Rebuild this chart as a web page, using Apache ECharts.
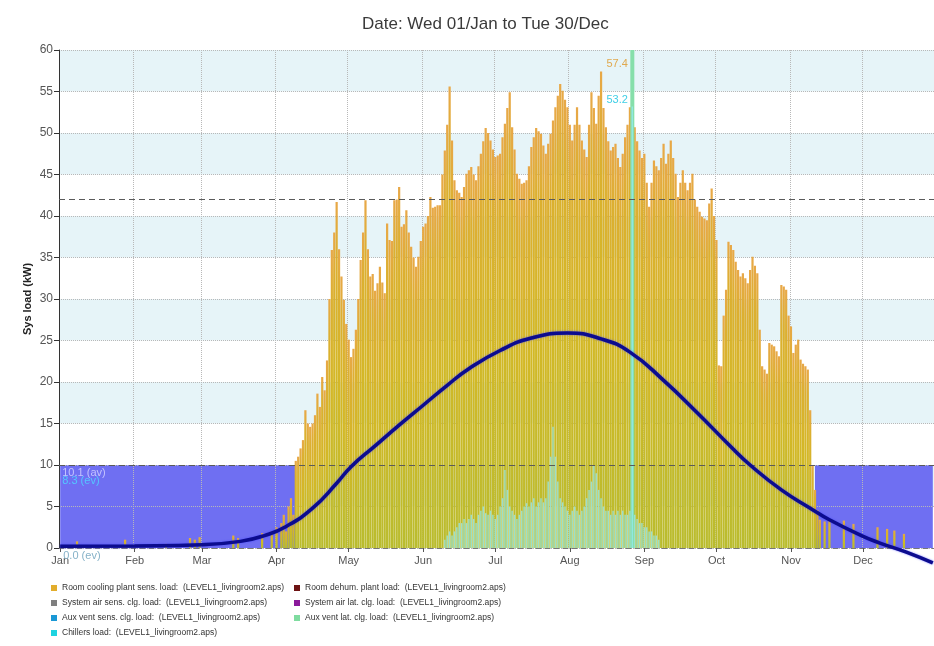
<!DOCTYPE html>
<html>
<head>
<meta charset="utf-8">
<script src="https://cdn.jsdelivr.net/npm/echarts@6/dist/echarts.min.js"></script>
<style>
html,body{margin:0;padding:0;background:#fff;}
#chart{width:934px;height:646px;}
</style>
</head>
<body>
<div id="chart"></div>
<script>
// ---- Data ----
const monthNames = ['Jan','Feb','Mar','Apr','May','Jun','Jul','Aug','Sep','Oct','Nov','Dec'];
const monthStarts = [0,31,59,90,120,151,181,212,243,273,304,334];
const dayCount = 364; // Wed 01/Jan .. Tue 30/Dec

// Room cooling plant sens. load: daily peak (kW), day 0 = 01/Jan
const coolingLoad = [
0,0,0,0,0,0,0,0.8,0,0,
0,0,0,0,0,0,0,0,0,0,
0,0,0,0,0,0,0,1.0,0,0,
0,0,0,0,0,0,0,0,0,0,
0,0,0,0,0.5,0,0,0,0,0,
0,0,0,0,1.2,0,1.0,0,1.3,0,
0,0,0,0,0,0,0,0,0,0,
0,0,1.5,0,1.2,0,0,0,0,0,
0,0,0,0,1.8,0,0,0,2.0,0,
2.5,0,3,4,2,5,6,4,10.5,11,
12,13,16.6,15,14.6,15,16,18.6,17,20.6,
19,22.6,30,35.9,38,41.7,36,32.7,29.9,27,
25.1,23,24,26.3,30,34.7,38,41.9,36,32.7,
33,31,31.9,33.9,32,30.7,39.1,37.1,37,41.9,
42,43.5,38.7,39,40.7,38,36.3,35,33.9,35.1,
37,38.7,39.1,40,42.3,41,41.1,41.3,41.3,45,
47.9,51,55.6,49.1,44.3,43.1,42.8,42.3,43.5,45.1,
45.5,45.9,45,44.3,46,47.5,49,50.6,50,49.1,
48,47.1,47.3,47.5,49.5,51.1,53,54.9,50.7,48,
45.1,44.5,43.9,44,44.3,46,48.3,49.5,50.6,50.2,
49.9,48.5,47.5,48.7,49.9,51.5,53.1,54.5,55.9,55.1,
54,53.1,51,49.1,51,53.1,51,49.1,48,47.1,
51,54.9,53,51.1,54.5,57.4,53,50.7,49,47.9,
48.3,48.7,47,45.9,47.5,49.5,51,53.1,52,50.7,
49,47.9,47,47.5,44,41.1,44,46.7,46,45.5,
47,48.7,46.3,47.5,49.1,47,45.1,42.3,44,45.5,
44,43.1,44,45.1,42,41.1,40.5,39.9,39.7,39.5,
41.5,43.3,40,37.1,22,21.9,28,31.1,36.9,36.5,
35.9,34.5,33.5,32.7,33.1,32.5,31.9,33.5,35.1,34,
33.1,26.3,21.9,21.5,21,24.7,24.5,24.3,23.7,23.1,
31.7,31.5,31.1,28,26.7,23.5,24.5,25.1,22.7,22.2,
21.9,21.5,16.6,10,7,4.6,3.4,0,3.2,0,
3.5,0,0,0,0,0,3.3,0,0,0,
2.9,0,0,0,0,0,0,0,0,0,
2.5,0,0,0,2.3,0,0,2.1,0,0,
0,1.7,0,0,0,0,0,0,0,0,
0,0,0,0
];

// Chillers load (kW): days 160..249, zero elsewhere
const chillersStart = 160;
const chillersLoad = [
1,1.5,2,1.5,2,2.5,3,3,3.5,3,
3.5,4,3.5,3,4,4.5,5,4.2,4,4.5,
4,3.5,4,5,6,9.4,7,5,4.5,4,
3.5,4,4.5,5,5.4,5,5.5,6,5,5.5,
6,5.5,6,8,11,14.6,11,8,6,5.5,
5,4.5,4,4.5,5,4.5,4,4.5,5,6,
7,8,10,9,7,6,5,4.5,4.5,4,
4.5,4,4.5,4,4.5,4,4,4.5,53.2,4,
3.5,3,3,2.5,2.5,2,2,1.5,1.5,1
];

// Aux vent lat. clg. load (kW): single spike
const auxLatDay = [238];
const auxLatValue = [60];

// Shaded band periods (day ranges) and band top (kW)
const bandStartDays = [0, 314];
const bandEndDays = [98, 363];
const bandTop = 10;

// Smoothed trend line (kW)
const trendDays   = [0,31,59,75,85,94,105,115,121,131,141,151,161,170,183,196,211,225,237,251,265,279,287,300,312,320,334,341,352,363];
const trendValues = [0.2,0.25,0.4,0.8,1.5,2.6,4.8,7.8,9.8,12.3,14.8,17.2,19.6,21.6,23.8,25.3,25.9,25.2,23.6,20.2,16.3,12.2,10,7,4.8,3.4,1.4,0.6,-0.5,-1.8];

const refLines = [42, 10];
const yTicks = {min:0, max:60, interval:5};

// ---- Build ----
const categories = [];
for (let i = 0; i < dayCount; i++) categories.push('d' + i);
const chillersFull = categories.map((c, i) => {
  const k = i - chillersStart;
  return (k >= 0 && k < chillersLoad.length) ? chillersLoad[k] : 0;
});
const auxLatFull = categories.map((c, i) => {
  const k = auxLatDay.indexOf(i);
  return k >= 0 ? auxLatValue[k] : 0;
});
const bandFull = categories.map((c, i) => {
  for (let k = 0; k < bandStartDays.length; k++) {
    if (i >= bandStartDays[k] && i <= bandEndDays[k]) return bandTop;
  }
  return null;
});
const trendData = trendDays.map((d, i) => [categories[d], trendValues[i]]);
const isMonthStart = (idx) => monthStarts.indexOf(idx) >= 0;

const N_COOL = 'Room cooling plant sens. load:  (LEVEL1_livingroom2.aps)';
const N_DEHUM = 'Room dehum. plant load:  (LEVEL1_livingroom2.aps)';
const N_SYSSENS = 'System air sens. clg. load:  (LEVEL1_livingroom2.aps)';
const N_SYSLAT = 'System air lat. clg. load:  (LEVEL1_livingroom2.aps)';
const N_AUXSENS = 'Aux vent sens. clg. load:  (LEVEL1_livingroom2.aps)';
const N_AUXLAT = 'Aux vent lat. clg. load:  (LEVEL1_livingroom2.aps)';
const N_CHILL = 'Chillers load:  (LEVEL1_livingroom2.aps)';

const FONT = '"Liberation Sans", Arial, sans-serif';
const chart = echarts.init(document.getElementById('chart'), null, {renderer:'canvas'});

const legendText = {fontSize: 8.5, color: '#333', fontFamily: FONT, lineHeight: 12};

const option = {
  animation: false,
  textStyle: {fontFamily: FONT},
  title: {
    text: 'Date: Wed 01/Jan to Tue 30/Dec',
    left: 357, top: 11,
    textStyle: {fontSize: 17, fontWeight: 'normal', color: '#3a3a3a', fontFamily: FONT}
  },
  legend: [
    {
      orient: 'vertical', left: 51, top: 582, height: 64, padding: 0,
      itemWidth: 6, itemHeight: 6, itemGap: 3,
      icon: 'rect', textStyle: legendText, selectedMode: false,
      data: [
        {name: N_COOL, itemStyle: {color: '#e2ad2c'}},
        {name: N_SYSSENS, itemStyle: {color: '#7f7f7f'}},
        {name: N_AUXSENS, itemStyle: {color: '#1a98d5'}},
        {name: N_CHILL, itemStyle: {color: '#1fd3e0', opacity: 1}}
      ]
    },
    {
      orient: 'vertical', left: 294, top: 582, height: 64, padding: 0,
      itemWidth: 6, itemHeight: 6, itemGap: 3,
      icon: 'rect', textStyle: legendText, selectedMode: false,
      data: [
        {name: N_DEHUM, itemStyle: {color: '#6d1313'}},
        {name: N_SYSLAT, itemStyle: {color: '#8b1a9b'}},
        {name: N_AUXLAT, itemStyle: {color: '#7fdca0', opacity: 1}}
      ]
    }
  ],
  grid: {left: 59, right: 0, top: 50, bottom: 98, containLabel: false},
  xAxis: [
    {
      type: 'category', data: categories, boundaryGap: true, z: 1.5,
      axisLine: {show: true, lineStyle: {color: '#777', type: [5, 4], width: 1}},
      axisTick: {show: true, interval: isMonthStart, alignWithLabel: true, length: 4, lineStyle: {color: '#555'}},
      axisLabel: {interval: isMonthStart, margin: 7, fontSize: 11, color: '#555',
        formatter: (v, i) => { const k = monthStarts.indexOf(i); return k >= 0 ? monthNames[k] : ''; }},
      splitLine: {show: true, interval: isMonthStart, lineStyle: {color: '#b8b8b8', type: 'dotted', width: 1}}
    },
    {type: 'category', data: categories, show: false},
    {type: 'category', data: categories, show: false}
  ],
  yAxis: [
    {
      type: 'value', min: yTicks.min, max: yTicks.max, interval: yTicks.interval, z: 1.5,
      name: 'Sys load (kW)', nameLocation: 'middle', nameGap: 26, nameMoveOverlap: false,
      nameTextStyle: {fontSize: 11, fontWeight: 'bold', color: '#222', fontFamily: FONT},
      axisLine: {show: true, lineStyle: {color: '#333', width: 1}},
      axisTick: {show: true, length: 5, lineStyle: {color: '#333'}},
      axisLabel: {fontSize: 12, color: '#555', margin: 6},
      splitLine: {show: true, lineStyle: {color: '#b8b8b8', type: 'dotted', width: 1}},
      splitArea: {show: false}
    },
    {
      type: 'value', min: yTicks.min, max: yTicks.max, interval: yTicks.interval, z: 0,
      axisLine: {show: false}, axisTick: {show: false}, axisLabel: {show: false},
      splitLine: {show: false},
      splitArea: {show: true, areaStyle: {color: ['#ffffff', '#e6f4f8']}}
    }
  ],
  series: [
    {
      name: 'band', type: 'line', xAxisIndex: 0, yAxisIndex: 0, data: bandFull,
      showSymbol: false, connectNulls: false, z: 1, silent: true,
      lineStyle: {width: 0, color: '#6f6ff2'},
      areaStyle: {color: '#6f6ff2', opacity: 1}
    },
    {
      name: N_COOL, type: 'bar', xAxisIndex: 0, yAxisIndex: 0, data: coolingLoad,
      barWidth: '92%', z: 2,
      itemStyle: {color: new echarts.graphic.LinearGradient(0, 0, 0, 1, [
        {offset: 0, color: '#e8a848'}, {offset: 0.15, color: '#dcaf30'},
        {offset: 0.5, color: '#d3b826'}, {offset: 1, color: '#b9bc2e'}])},
      markLine: {
        silent: true, symbol: ['none', 'none'], z: 5,
        label: {show: false},
        lineStyle: {color: '#5a5a5a', type: [6, 4], width: 1.2},
        data: refLines.map(v => ({yAxis: v}))
      }
    },
    {name: N_DEHUM, type: 'line', data: [], itemStyle: {color: '#6d1313'}},
    {name: N_SYSSENS, type: 'line', data: [], itemStyle: {color: '#7f7f7f'}},
    {name: N_SYSLAT, type: 'line', data: [], itemStyle: {color: '#8b1a9b'}},
    {name: N_AUXSENS, type: 'line', data: [], itemStyle: {color: '#1a98d5'}},
    {
      name: N_AUXLAT, type: 'bar', xAxisIndex: 2, yAxisIndex: 0, data: auxLatFull,
      barWidth: 4, z: 3, itemStyle: {color: '#86dfaa'}
    },
    {
      name: N_CHILL, type: 'bar', xAxisIndex: 1, yAxisIndex: 0, data: chillersFull,
      barWidth: '60%', z: 3, itemStyle: {color: '#93e9ef', opacity: 0.8}
    },
    {
      name: 'trend', type: 'line', xAxisIndex: 0, yAxisIndex: 0, data: trendData,
      smooth: 0.5, showSymbol: false, clip: false, z: 10,
      lineStyle: {color: '#0c0c8e', width: 3.5, shadowColor: 'rgba(60,60,255,0.7)', shadowBlur: 2},
      itemStyle: {color: '#0c0c8e'},
      markPoint: {
        silent: true, symbol: 'rect', symbolSize: 0.1, z: 11,
        itemStyle: {color: 'rgba(0,0,0,0)'},
        label: {fontSize: 11, fontFamily: FONT},
        data: [
          {coord: [categories[237], 58.3], value: 57.4, label: {position: 'left', distance: 2, formatter: '57.4', color: '#e0a94f'}},
          {coord: [categories[237], 54.0], value: 53.2, label: {position: 'left', distance: 2, formatter: '53.2', color: '#3fcfe6'}},
          {coord: [categories[0], 9.1], value: 10.1, label: {position: 'right', distance: 2, formatter: '10.1 (av)', color: 'rgba(205,205,255,0.9)'}},
          {coord: [categories[0], 8.1], value: 8.3, label: {position: 'right', distance: 2, formatter: '8.3 (ev)', color: '#54c6ff'}},
          {coord: [categories[0], 0], value: 0, label: {position: 'right', distance: 3, offset: [0, 8], formatter: '0.0 (ev)', color: '#86b2c8'}}
        ]
      }
    }
  ]
};
chart.setOption(option);
</script>
</body>
</html>
